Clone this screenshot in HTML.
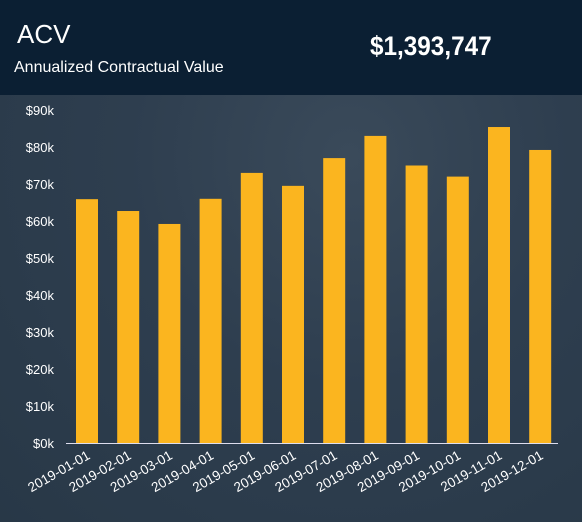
<!DOCTYPE html>
<html><head><meta charset="utf-8"><style>
body{margin:0;width:582px;height:522px;overflow:hidden;font-family:"Liberation Sans",sans-serif;}
#wrap{position:relative;width:582px;height:522px;background:radial-gradient(ellipse at 60% 30%,#3a4a5a 0%,#2e3e4f 45%,#283847 100%);}
#hdr{position:absolute;left:0;top:0;width:582px;height:95px;background:#0b1f33;}
</style></head><body>
<div id="wrap">
<div id="hdr">
<div style="position:absolute;left:17px;top:19px;color:#fff;font-size:26px;">ACV</div>
<div style="position:absolute;left:14px;top:59px;color:#fff;font-size:16px;">Annualized Contractual Value</div>
<div style="position:absolute;left:370px;top:31px;color:#fff;font-size:27px;font-weight:bold;transform:scaleX(0.9);transform-origin:left;">$1,393,747</div>
</div>
<svg id="chart" width="582" height="522" style="position:absolute;left:0;top:0"></svg>
</div>
<script>
const categories=["2019-01-01","2019-02-01","2019-03-01","2019-04-01","2019-05-01","2019-06-01","2019-07-01","2019-08-01","2019-09-01","2019-10-01","2019-11-01","2019-12-01"];
const values=[65900,62700,59200,66000,73000,69500,77000,83000,75000,72000,85400,79200];
const yTicks=[0,10000,20000,30000,40000,50000,60000,70000,80000,90000];
const yTickLabels=["$0k","$10k","$20k","$30k","$40k","$50k","$60k","$70k","$80k","$90k"];
const svg=document.getElementById('chart');
const NS='http://www.w3.org/2000/svg';
const y0=443,yTop=110,yMax=90000;
function y(v){return y0-(v/yMax)*(y0-yTop);}
function x(i){return 87+i*41.2;}
function mk(t,a){const e=document.createElementNS(NS,t);for(const k in a)e.setAttribute(k,a[k]);svg.appendChild(e);return e;}
yTicks.forEach((t,i)=>{const e=mk('text',{x:54,y:y(t)+5,'text-anchor':'end',fill:'#fff','font-size':'13','font-family':'Liberation Sans, sans-serif'});


e.textContent=yTickLabels[i];});
values.forEach((v,i)=>{const r=mk('rect',{x:x(i)-11,y:y(v),width:22,height:y0-y(v),fill:'#fbb51f'});

});
const ax=mk('line',{x1:66,x2:558,y1:y0+0.5,y2:y0+0.5,stroke:'#dde','stroke-width':1});


categories.forEach((c,i)=>{const tx=x(i)+4,ty=y0+15;const e=mk('text',{x:tx,y:ty,'text-anchor':'end',fill:'#fff','font-size':'13.5','font-family':'Liberation Sans, sans-serif',transform:'rotate(-30 '+tx+' '+ty+')'});


e.textContent=c;});
</script>
</body></html>
